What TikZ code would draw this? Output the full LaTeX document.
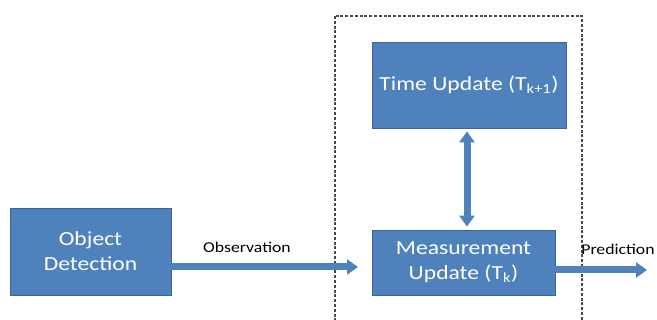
\documentclass[tikz,border=0pt]{standalone}
\usepackage{fontspec}
\setmainfont{Carlito}
\newfontfamily\widefont[FakeStretch=1.18]{Carlito}
\usetikzlibrary{arrows.meta}
\definecolor{boxblue}{HTML}{4F81BD}
\definecolor{boxedge}{HTML}{3A6594}
\definecolor{frame}{HTML}{4A4A4A}
\tikzset{
  block/.style={draw=boxedge,line width=0.8pt,fill=boxblue,text=white,align=center,
    font=\widefont\fontsize{20}{25}\selectfont,inner sep=0pt},
  fatarrow/.style={draw=boxblue,line width=7pt,
    arrows={-{Triangle[length=11pt,width=15pt]}}},
  lbl/.style={font=\widefont\fontsize{15}{17}\selectfont,inner sep=0pt}
}
\begin{document}
\begin{tikzpicture}[line cap=butt,line join=miter,x=1pt,y=-1pt]
\useasboundingbox (0,0) rectangle (657,320);
\draw [frame,line width=1.2pt,dash pattern=on 3pt off 1.8pt] (335,16) rectangle (582,330);
\node [block,minimum width=161pt,minimum height=87pt] (obj) at (90.5,251.5) {Object\\Detection};
\node [block,minimum width=194pt,minimum height=86pt] (time) at (469,85) {Time Update (T\textsubscript{k+1})};
\node [block,minimum width=183pt,minimum height=65pt] (meas) at (463.5,262.5) {Measurement\\Update (T\textsubscript{k})};
\coordinate (obsend) at (358,267);
\coordinate (predend) at (647,270);
\draw [fatarrow] ([yshift=-15.5pt]obj.east) -- (obsend);
\draw [fatarrow] (meas.east |- predend) -- (predend);
\draw [fatarrow,arrows={{Triangle[length=11pt,width=15pt]}-{Triangle[length=11pt,width=15pt]}},shorten <=3pt,shorten >=3pt]
  ([xshift=-2pt]time.south) -- ([xshift=-2pt]time.south |- meas.north);
\node [lbl] (obs) at (247,247) {Observation};
\node [lbl] (pred) at (618,249) {Prediction};
\end{tikzpicture}
\end{document}
